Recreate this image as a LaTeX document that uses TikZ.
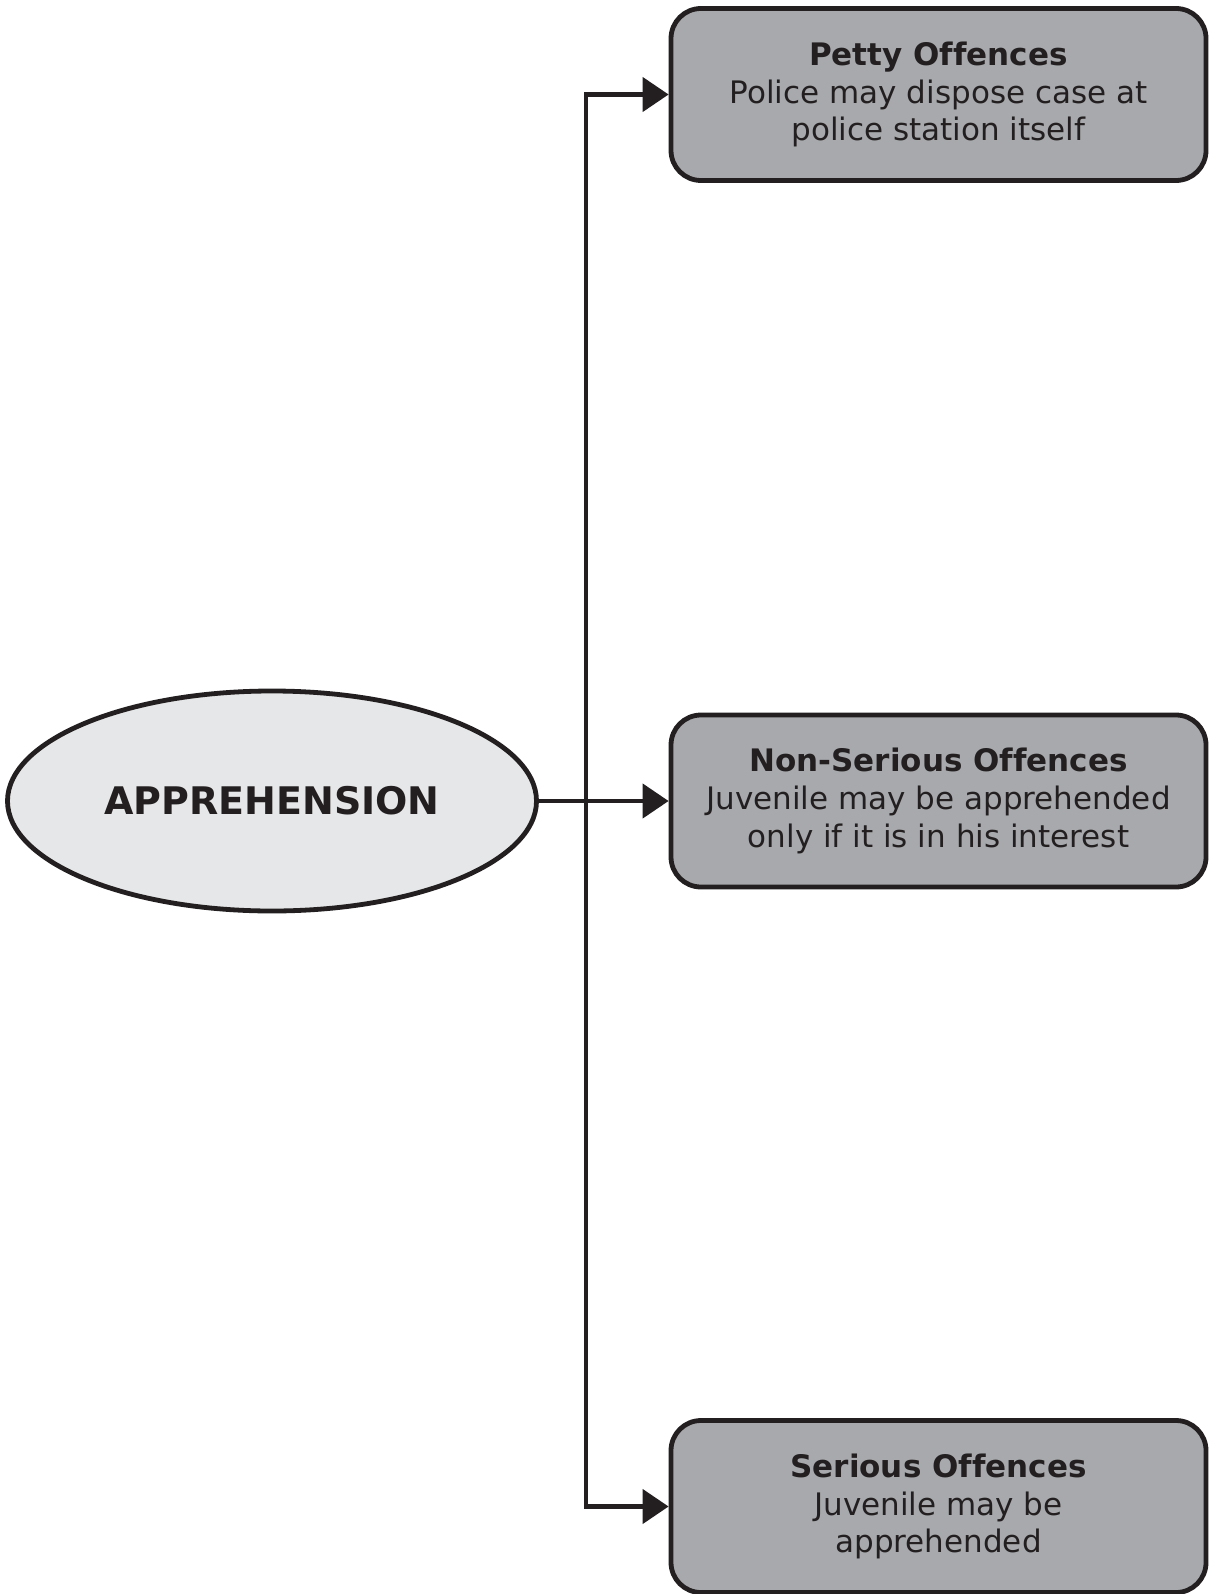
\documentclass[tikz,border=0pt]{standalone}
\usepackage{fontspec}
\setmainfont[Ligatures=NoCommon]{DejaVu Sans}
\usetikzlibrary{shapes.geometric,arrows.meta}
\definecolor{ink}{HTML}{231F20}
\definecolor{boxgray}{HTML}{A7A9AC}
\definecolor{ellgray}{HTML}{E6E7E8}
\tikzset{
  offbox/.style={draw=ink, line width=4.8pt, fill=boxgray, rounded corners=30pt,
    minimum width=535pt, minimum height=172pt, inner sep=0pt, align=center,
    text=ink, font=\fontsize{31}{37.6}\selectfont},
  mainell/.style={ellipse, draw=ink, line width=4.8pt, fill=ellgray,
    minimum width=529pt, minimum height=220pt, inner sep=0pt, text=ink,
    font=\fontsize{38}{44}\selectfont\bfseries},
  conn/.style={draw=ink, line width=4.4pt, line join=miter},
  tip/.tip={Triangle[length=26pt,width=34pt]}
}
\begin{document}
\begin{tikzpicture}[x=1pt,y=-1pt]
\useasboundingbox (0,0) rectangle (1208,1594);
\node[mainell] (ell) at (272,801) {APPREHENSION};
\node[offbox] (b1) at (938.5,94.5) {\textbf{Petty Offences}\\Police may dispose case at\\police station itself};
\node[offbox] (b2) at (938.5,801) {\textbf{Non-Serious Offences}\\Juvenile may be apprehended\\only if it is in his interest};
\node[offbox] (b3) at (938.5,1506.5) {\textbf{Serious Offences}\\Juvenile may be\\apprehended};
\coordinate (j1) at (586,94.5);
\coordinate (j3) at (586,1506.5);
\draw[conn, tip-tip] (b1.west) -- (j1) -- (j3) -- (b3.west);
\draw[conn, -tip] (ell.east) -- (b2.west);
\end{tikzpicture}
\end{document}
